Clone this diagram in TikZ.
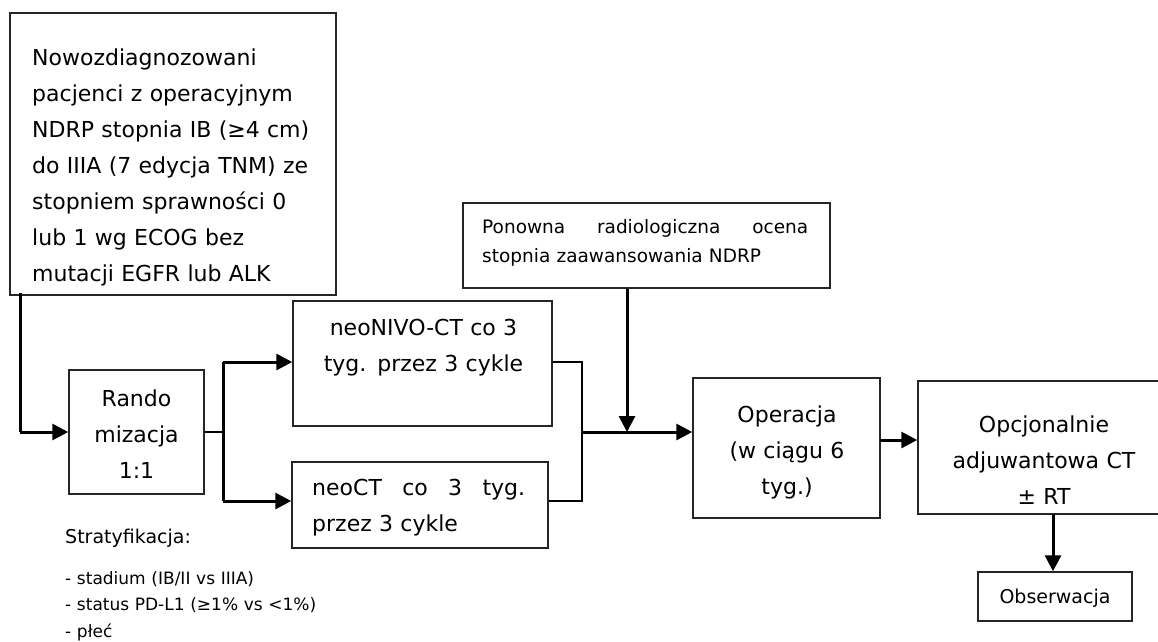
\documentclass[tikz,border=0pt]{standalone}
\usepackage{fontspec}
\setmainfont{DejaVu Sans}
\usetikzlibrary{arrows.meta}
\begin{document}
\begin{tikzpicture}[x=1pt,y=-1pt,
  box/.style={draw=black!85,line width=1.5pt,inner sep=0pt},
  big/.style={font=\fontsize{22}{36}\selectfont},
  small/.style={font=\fontsize{18.5}{28}\selectfont},
  txt/.style={inner sep=0pt,anchor=base},
  thinline/.style={draw=black,line width=1.5pt},
  arr/.style={draw=black,line width=3pt,-{Triangle[length=16pt,width=16pt]}},
  thickline/.style={draw=black,line width=3pt}]
\clip (0,0) rectangle (1158,641);
\fill[white] (0,0) rectangle (1158,641);
% boxes
\node[box,minimum width=326,minimum height=282] (main) at (173,154) {};
\node[box,minimum width=135,minimum height=124] (rando) at (136.5,432) {};
\node[box,minimum width=259,minimum height=125] (nivo) at (422.5,363.5) {};
\node[box,minimum width=256,minimum height=86] (ct) at (420,505) {};
\node[box,minimum width=367,minimum height=85] (pon) at (646.5,245.5) {};
\node[box,minimum width=187,minimum height=140] (op) at (786.5,448) {};
\node[box,minimum width=246,minimum height=133] (opc) at (1041,447.5) {};
\node[box,minimum width=154,minimum height=49] (obs) at (1055,596.5) {};
% texts
\node[txt,big,anchor=base west,text width=310,align=left] (maintxt) at (32,65)
  {Nowozdiagnozowani\\pacjenci z operacyjnym\\NDRP stopnia IB (≥4 cm)\\do IIIA (7 edycja TNM) ze\\stopniem sprawności 0\\lub 1 wg ECOG bez\\mutacji EGFR lub ALK};
\node[txt,big,text width=130,align=center] (randotxt) at (136.5,406) {Rando\\mizacja\\1:1};
\node[txt,big,text width=250,align=center] (nivotxt) at (423.5,335) {neoNIVO-CT co 3\\tyg. przez 3 cykle};
\node[txt,big,anchor=base west,text width=213,align=left] (cttxt) at (312,495) {neoCT\hfill co\hfill 3\hfill tyg.\\przez 3 cykle};
\node[txt,anchor=base west,text width=326,align=left,font=\fontsize{18.5}{29}\selectfont] (pontxt) at (482,233) {Ponowna\hfill radiologiczna\hfill ocena\\stopnia zaawansowania NDRP};
\node[txt,big,text width=180,align=center] (optxt) at (787,422) {Operacja\\(w ciągu 6\\tyg.)};
\node[txt,big,text width=240,align=center] (opctxt) at (1044,432) {Opcjonalnie\\adjuwantowa CT\\± RT};
\node[txt,font=\fontsize{19}{24}\selectfont] (obstxt) at (1055,603) {Obserwacja};
\node[txt,font=\fontsize{19}{24}\selectfont,anchor=base west] (strat) at (65,543) {Stratyfikacja:};
\node[txt,anchor=base west,text width=300,align=left,font=\fontsize{17}{26.5}\selectfont] (list) at (65,584)
  {- stadium (IB/II vs IIIA)\\- status PD-L1 (≥1\% vs <1\%)\\- płeć};
% connectors
\coordinate (m1) at (20,293);
\coordinate (r1) at (20,432);
\draw[thickline] (m1) -- (r1);
\draw[arr] (r1) -- (rando.west);
\coordinate (sp) at (223,432);
\coordinate (s1) at (223,362);
\coordinate (s2) at (223,501);
\draw[thinline] (rando.east) -- (sp);
\draw[thickline] (s1) -- (s2);
\draw[arr] (s1) -- (s1 -| nivo.west);
\draw[arr] (s2) -- (s2 -| ct.west);
\coordinate (j1) at (582,362);
\coordinate (j2) at (582,501);
\coordinate (jm) at (582,432);
\draw[thinline] (j1 -| nivo.east) -- (j1) -- (j2) -- (j2 -| ct.east);
\draw[arr] (jm) -- (jm -| op.west);
\coordinate (pj) at (627,432);
\draw[arr] (pj |- pon.south) -- (pj);
\coordinate (k) at (880,440);
\draw[arr] (k) -- (k -| opc.west);
\coordinate (o) at (1053,514);
\draw[arr] (o) -- (o |- obs.north);
\end{tikzpicture}
\end{document}
